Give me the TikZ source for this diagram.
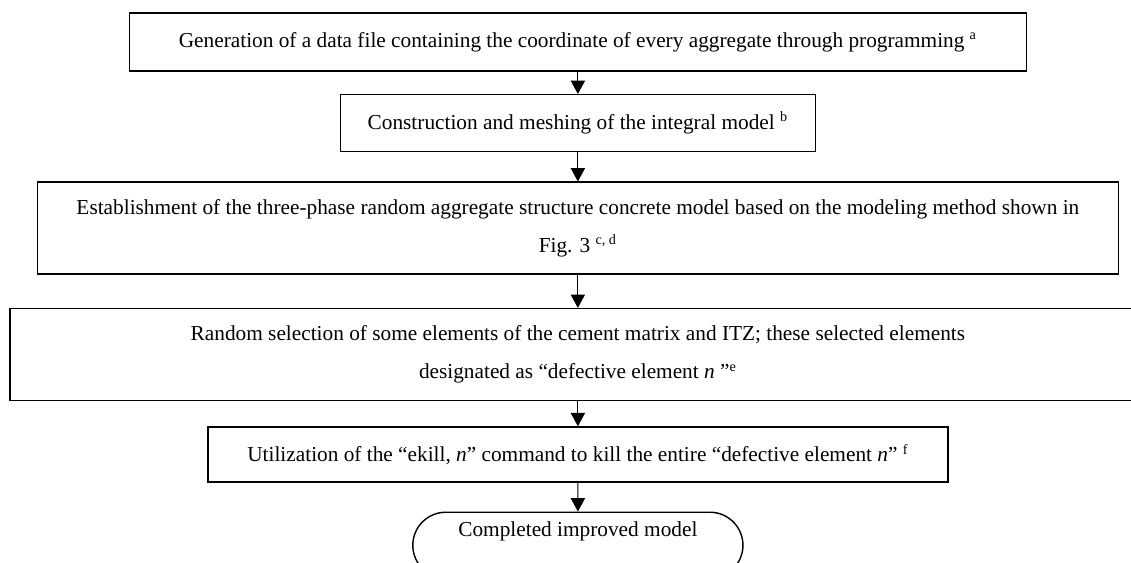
\documentclass[tikz,border=0pt]{standalone}
\usepackage{fontspec}
\setmainfont{Liberation Serif}
\usetikzlibrary{positioning,shapes.misc,arrows.meta}

\begin{document}
\begin{tikzpicture}

%steps
\tikzstyle{steptype} = [draw=black, line width=0.8pt, rectangle, align=center, font=\fontsize{12}{21.5}\selectfont]
\tikzstyle{endtype} = [draw=black, line width=0.8pt, rounded rectangle, font=\fontsize{12}{14}\selectfont, text height=4pt, text depth=14pt]
\tikzstyle{flowline} = [line width=0.6pt, -{Triangle[length=7.5pt,width=8pt]}]

\useasboundingbox (0,0) rectangle (22.39,-11.13);

\node (step1) [steptype, minimum width=17.76cm, minimum height=1.148cm] at (11.44,-0.832) {Generation of a data file containing the coordinate of every aggregate through programming \textsuperscript{a}};
\node (step2) [steptype, minimum width=9.405cm, minimum height=1.129cm, below=0.44cm of step1] {Construction and meshing of the integral model \textsuperscript{b}};
\node (step3) [steptype, minimum width=21.40cm, minimum height=1.82cm, below=0.575cm of step2] {Establishment of the three-phase random aggregate structure concrete model based on the modeling method shown in\\ Fig. 3 \textsuperscript{c, d}};
\node (step4) [steptype, minimum width=22.49cm, minimum height=1.82cm, below=0.655cm of step3] {Random selection of some elements of the cement matrix and ITZ; these selected elements\\ designated as “defective element \textit{n} ”\textsuperscript{e}};
\node (step5) [steptype, minimum width=14.65cm, minimum height=1.09cm, below=0.495cm of step4] {Utilization of the “ekill, \textit{n}” command to kill the entire “defective element \textit{n}” \textsuperscript{f}};
\node (step6) [endtype, minimum width=6.77cm, minimum height=1.307cm, below=0.57cm of step5] {Completed improved model};

%arrows
\draw [flowline] (step1) -- (step2);
\draw [flowline] (step2) -- (step3);
\draw [flowline] (step3) -- (step4);
\draw [flowline] (step4) -- (step5);
\draw [flowline] (step5) -- (step6);

\end{tikzpicture}
\end{document}
